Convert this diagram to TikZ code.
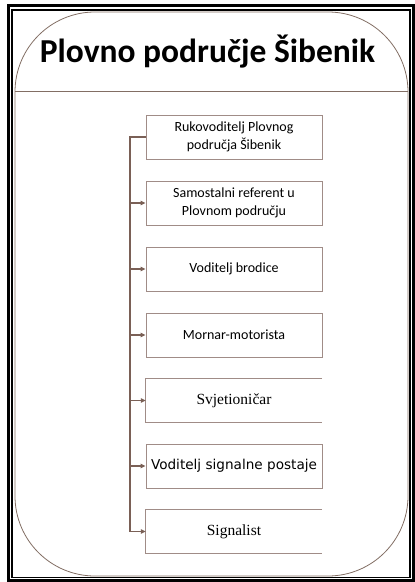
\documentclass[tikz,border=0pt]{standalone}
\usepackage{fontspec}
\setmainfont{Carlito}
\newfontfamily\vfont{DejaVu Sans}
\newfontfamily\tfont{Liberation Serif}
\usetikzlibrary{arrows.meta}
\definecolor{conncol}{RGB}{122,96,86}
\definecolor{boxcol}{RGB}{160,140,135}
\definecolor{panelcol}{RGB}{130,110,100}
\begin{document}
\begin{tikzpicture}[x=1pt,y=-1pt,
  stepbox/.style={minimum width=176pt,minimum height=44pt,inner sep=0pt,
    align=center,font=\fontsize{14}{18.5}\selectfont},
  framed/.style={draw=boxcol,line width=0.9pt},
  conn/.style={draw=conncol,line width=1.4pt},
  tip/.style={-{Triangle[length=5pt,width=4.5pt]}}]
\useasboundingbox (0,0) rectangle (415,582);
% outer double frame
\draw[line width=3pt] (8,5.5) rectangle (413.5,580.5);
\draw[line width=1.6pt] (12,9.8) rectangle (410.2,577.6);
% rounded panel with title band
\draw[panelcol,line width=0.8pt,rounded corners=80pt] (15,12) rectangle (408,576);
\draw[panelcol,line width=0.8pt] (15,91) -- (408,91);
\node[font=\bfseries\fontsize{33.5}{36}\selectfont,anchor=base,inner sep=0pt] (title) at (207.5,62) {Plovno područje Šibenik};
% positions
\node[stepbox,framed] (b1) at (234,137) {Rukovoditelj Plovnog\\područja Šibenik};
\node[stepbox,framed] (b2) at (234,203) {Samostalni referent u\\Plovnom području};
\node[stepbox,framed] (b3) at (234,269) {Voditelj brodice};
\node[stepbox,framed] (b4) at (234,335) {Mornar-motorista};
\node[stepbox,font=\tfont\fontsize{15.5}{18}\selectfont] (b5) at (234,400.5) {Svjetioničar};
\node[stepbox,framed,font=\vfont\fontsize{13.6}{16}\selectfont] (b6) at (234,466) {Voditelj signalne postaje};
\node[stepbox,font=\tfont\fontsize{15.5}{18}\selectfont] (b7) at (234,531.5) {Signalist};
% open-sided boxes
\draw[boxcol,line width=0.9pt] (b5.north east) -- (b5.north west) -- (b5.south west) -- (b5.south east);
\draw[boxcol,line width=0.9pt] (b7.north east) -- (b7.north west) -- (b7.south west) -- (b7.south east);
% connectors
\coordinate (t) at (130,137);
\draw[conn,tip] (b1.west) -- (t) |- (b7.west);
\foreach \n in {b2,b3,b4,b5,b6}
  \draw[conn,tip] (t |- \n.west) -- (\n.west);
\end{tikzpicture}
\end{document}
